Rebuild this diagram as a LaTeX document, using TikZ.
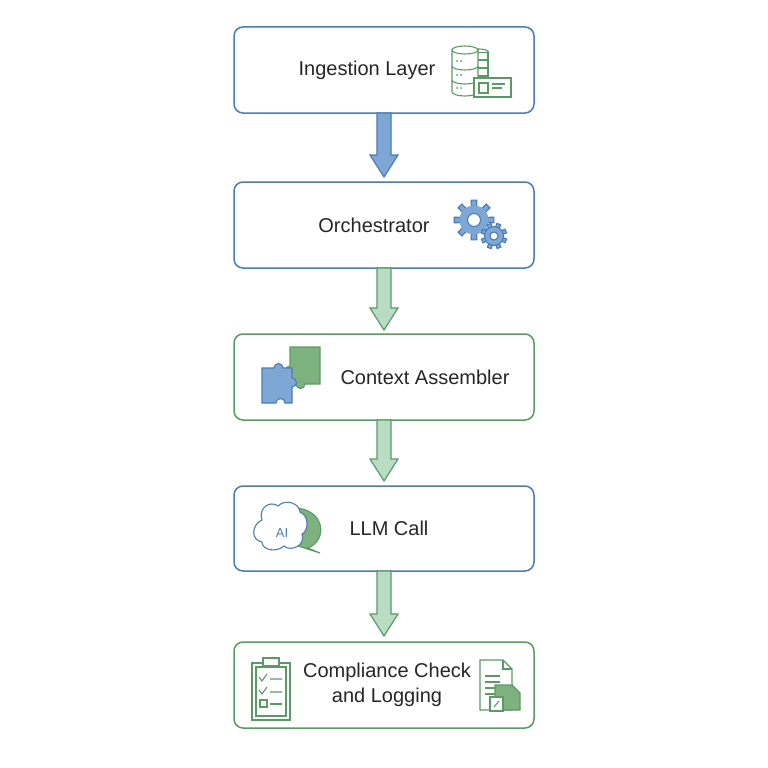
\documentclass[tikz,border=0pt]{standalone}
\usepackage{fontspec}
\setmainfont{Liberation Sans}
\begin{document}
\begin{tikzpicture}[x=1pt,y=-1pt,
 box/.style={rounded corners=9pt,line width=1.5pt,fill=white},
 lbl/.style={font=\fontsize{20}{25}\selectfont,align=center,text=black!85},
 ico/.style={line width=1.1pt},
]
\definecolor{bl}{HTML}{4A7DB5}\definecolor{blf}{HTML}{7FA7D6}
\definecolor{gr}{HTML}{5B9A65}\definecolor{grf}{HTML}{B9DCC4}\definecolor{grd}{HTML}{7DB27F}
\useasboundingbox (0,0) rectangle (768,768);
\fill[white] (0,0) rectangle (768,768);
% boxes
\draw[box,draw=bl] (234,27) rectangle (534,113); \node[lbl] (b1) at (367,70) {Ingestion Layer};
\draw[box,draw=bl] (234,182) rectangle (534,268); \node[lbl] (b2) at (374,225) {Orchestrator};
\draw[box,draw=gr] (234,334) rectangle (534,420); \node[lbl] (b3) at (425,377) {Context Assembler};
\draw[box,draw=bl] (234,486) rectangle (534,571); \node[lbl] (b4) at (389,528) {LLM Call};
\draw[box,draw=gr] (234,642) rectangle (534,728); \node[lbl] (b5) at (387,685) {Compliance Check\\and Logging};
% arrows
\newcommand\barr[4]{\draw[#3,fill=#4,line width=1.2pt,line join=miter] (377,#1)--(391,#1)--(391,#2-22)--(398,#2-22)--(384,#2)--(370,#2-22)--(377,#2-22)--cycle;}
\barr{113}{177}{bl}{blf}
\barr{268}{330}{gr}{grf}
\barr{420}{481}{gr}{grf}
\barr{571}{636}{gr}{grf}
% DB icon
\begin{scope}[gr,ico]
\draw[fill=white] (470,52) rectangle (488,86);
\foreach \y in {60,68,76} \draw (470,\y)--(488,\y);
\draw[fill=white] (470,52) arc (180:360:9 and 3);
\draw[fill=white] (452,50) -- (452,92) arc (180:0:13 and 4) -- (478,50);
\draw[fill=white] (465,50) ellipse (13 and 4);
\draw (452,66) arc (180:0:13 and 4) (452,80) arc (180:0:13 and 4);
\foreach \y in {61,75,88} \fill (457,\y) circle (1pt) (461,\y) circle (1pt);
\draw[fill=white] (474,78) rectangle (511,97);
\draw (479,83) rectangle (488,93) (492,84)--(505,84) (492,88)--(502,88);
\end{scope}
% gears
\foreach \a in {0,45,...,315} \draw[bl,fill=blf,ico] (474,220)+(\a-11:14)--+(\a-8:20)--+(\a+8:20)--+(\a+11:14)--cycle;
\fill[blf] (474,220) circle (14.5);
\draw[bl,ico,fill=white] (474,220) circle (6.5);
\foreach \a in {22,67,...,337} \draw[bl,fill=blf,ico] (494,236)+(\a-12:9)--+(\a-9:13)--+(\a+9:13)--+(\a+12:9)--cycle;
\draw[bl,fill=blf,ico] (494,236) circle (9.5);
\draw[bl,ico,fill=white] (494,236) circle (4);
% puzzle
\draw[gr,fill=grd,ico] (290,347)--(320,347)--(320,384)--(305,384) arc (0:180:4.5)--(290,384)--(290,375) arc (90:270:4.5)--(290,347)--cycle;
\draw[bl,fill=blf,ico] (262,368)--(274,368) arc (180:360:4.5)--(292,368)--(292,378) arc (270:450:4.5)--(292,403)--(285,403) arc (0:-180:4.5)--(262,403)--cycle;
% AI brain
\draw[gr,fill=grd,ico] (296,508) .. controls (325,510) and (328,540) .. (308,548) -- (320,553) -- (298,546) .. controls (290,540) and (290,515) .. (296,508);
\draw[bl,fill=white,ico] (262,520) .. controls (258,508) and (270,500) .. (278,506) .. controls (286,498) and (300,504) .. (300,512) .. controls (310,516) and (308,532) .. (302,534) .. controls (306,546) and (290,552) .. (284,546) .. controls (276,553) and (262,550) .. (262,542) .. controls (250,540) and (252,524) .. (262,520) -- cycle;
\node[bl,font=\fontsize{13}{13}\selectfont] (ai) at (282,533) {AI};
% clipboard
\begin{scope}[gr,ico]
\draw[fill=white] (252,663) rectangle (290,720);
\draw[fill=white] (256,667) rectangle (286,716);
\draw[fill=white] (263,658) rectangle (279,666);
\draw (259,677)--(262,681)--(267,674) (270,679)--(282,679);
\draw (259,690)--(262,694)--(267,687) (270,692)--(282,692);
\draw (260,700) rectangle (267,707) (270,704)--(282,704);
\end{scope}
% document
\begin{scope}[gr,ico]
\draw[fill=white] (480,660)--(503,660)--(512,669)--(512,710)--(480,710)--cycle;
\draw (503,660)--(503,669)--(512,669);
\foreach \y in {676,682,688,694} \draw (485,\y)--(500,\y);
\draw[fill=grd] (495,685)--(512,685)--(520,693)--(520,710)--(495,710)--cycle;
\draw[fill=white] (490,697) rectangle (503,711);
\draw (494,707)--(499,701);
\end{scope}
\end{tikzpicture}
\end{document}
